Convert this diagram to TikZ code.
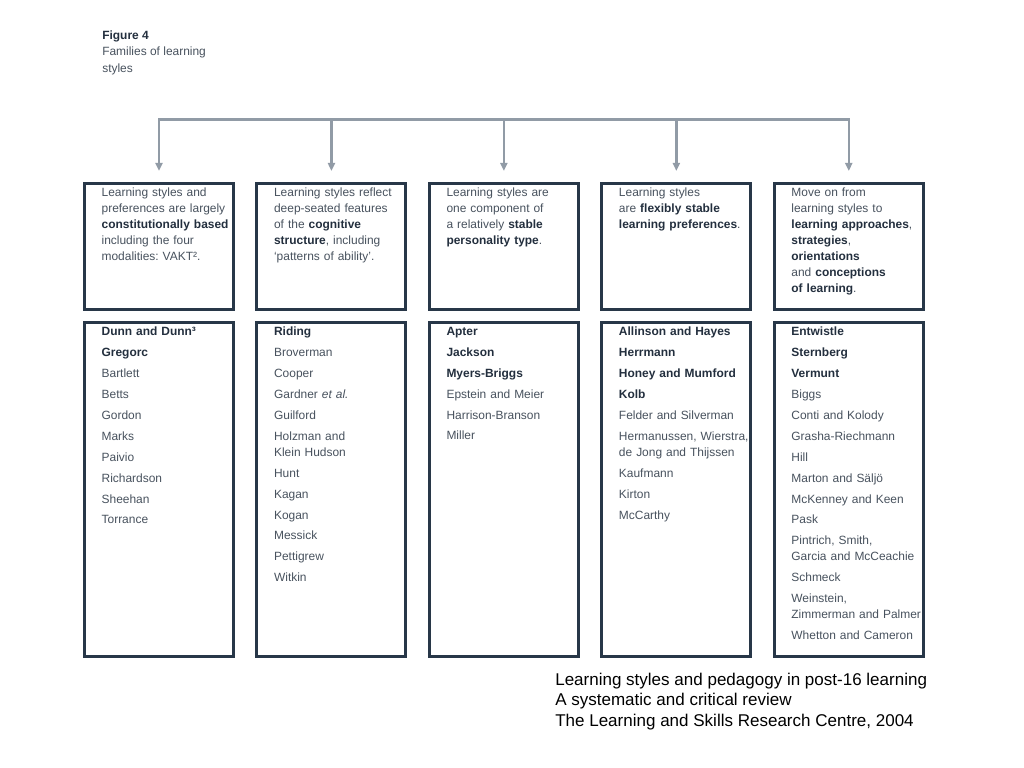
\documentclass[tikz,border=0pt]{standalone}
\usepackage{fontspec}
\setmainfont{Liberation Sans}
\usepackage{xcolor}
\usetikzlibrary{arrows.meta,positioning}
\definecolor{famnavy}{RGB}{40,55,72}
\definecolor{famgrey}{RGB}{145,155,166}
\definecolor{famtext}{RGB}{72,82,94}
\definecolor{fambold}{RGB}{35,47,62}
\frenchspacing
\newcommand{\famb}[1]{\textbf{\color{fambold}#1}}
\newcommand{\famparas}{\setlength{\parindent}{0pt}\setlength{\parskip}{3.45pt}}
\tikzset{
  topbox/.style={
    rectangle,
    draw=famnavy,
    line width=2.1pt,
    outer sep=0pt,
    minimum width=3.725cm,
    minimum height=3.15cm
  },
  listbox/.style={
    topbox,
    minimum height=8.35cm
  },
  titletext/.style={
    anchor=north west,
    inner sep=0pt,
    align=left,
    text=famtext,
    font=\fontsize{8.5pt}{11.4pt}\selectfont
  },
  boxtext/.style={
    titletext,
    text width=3.4cm,
    execute at begin node=\famparas,
    xshift=12pt,
    yshift=-3.2pt
  },
  notetext/.style={
    anchor=north west,
    inner sep=0pt,
    align=left,
    text=black,
    font=\fontsize{12.1pt}{14.7pt}\selectfont
  },
  busline/.style={
    draw=famgrey,
    line width=1.8pt,
    line cap=rect
  },
  famarrow/.style={
    -{Triangle[length=5.7pt,width=5pt]},
    draw=famgrey,
    line width=1.8pt,
    shorten >=8.7pt
  }
}

\begin{document}
\begin{tikzpicture}[x=0.025cm, y=-0.025cm, node distance=0.3325cm and 0.585cm]
\fill[white] (0,0) rectangle (1024,768);
\useasboundingbox (0,0) rectangle (1024,768);

% title
\node[titletext] (title) at (102,31) {\famb{Figure 4}\\Families of learning\\styles};

% the five families
\node[topbox] (t1) at (159,246.2) {};
\node[topbox, right=of t1] (t2) {};
\node[topbox, right=of t2] (t3) {};
\node[topbox, right=of t3] (t4) {};
\node[topbox, right=of t4] (t5) {};

\node[listbox, below=of t1] (l1) {};
\node[listbox, below=of t2] (l2) {};
\node[listbox, below=of t3] (l3) {};
\node[listbox, below=of t4] (l4) {};
\node[listbox, below=of t5] (l5) {};

% family descriptions
\node[boxtext] (d1) at (t1.north west) {Learning styles and\\preferences are largely\\\famb{constitutionally based}\\including the four\\modalities: VAKT².};
\node[boxtext] (d2) at (t2.north west) {Learning styles reflect\\deep-seated features\\of the \famb{cognitive}\\\famb{structure}, including\\`patterns of ability'.};
\node[boxtext] (d3) at (t3.north west) {Learning styles are\\one component of\\a relatively \famb{stable}\\\famb{personality type}.};
\node[boxtext] (d4) at (t4.north west) {Learning styles\\are \famb{flexibly stable}\\\famb{learning preferences}.};
\node[boxtext] (d5) at (t5.north west) {Move on from\\learning styles to\\\famb{learning approaches},\\\famb{strategies},\\\famb{orientations}\\and \famb{conceptions}\\\famb{of learning}.};

% theorists, one paragraph each
\node[boxtext] (n1) at (l1.north west) {\famb{Dunn and Dunn³}\par\famb{Gregorc}\par Bartlett\par Betts\par Gordon\par Marks\par Paivio\par Richardson\par Sheehan\par Torrance};
\node[boxtext] (n2) at (l2.north west) {\famb{Riding}\par Broverman\par Cooper\par Gardner \textit{et al.}\par Guilford\par Holzman and\\Klein Hudson\par Hunt\par Kagan\par Kogan\par Messick\par Pettigrew\par Witkin};
\node[boxtext] (n3) at (l3.north west) {\famb{Apter}\par\famb{Jackson}\par\famb{Myers-Briggs}\par Epstein and Meier\par Harrison-Branson\par Miller};
\node[boxtext] (n4) at (l4.north west) {\famb{Allinson and Hayes}\par\famb{Herrmann}\par\famb{Honey and Mumford}\par\famb{Kolb}\par Felder and Silverman\par Hermanussen, Wierstra,\\de Jong and Thijssen\par Kaufmann\par Kirton\par McCarthy};
\node[boxtext] (n5) at (l5.north west) {\famb{Entwistle}\par\famb{Sternberg}\par\famb{Vermunt}\par Biggs\par Conti and Kolody\par Grasha-Riechmann\par Hill\par Marton and Säljö\par McKenney and Keen\par Pask\par Pintrich, Smith,\\Garcia and McCeachie\par Schmeck\par Weinstein,\\Zimmerman and Palmer\par Whetton and Cameron};

% bus and arrows
\coordinate (bus) at (0,119.3);
\coordinate (b1) at (t1.north |- bus);
\coordinate (b2) at (t2.north |- bus);
\coordinate (b3) at (t3.north |- bus);
\coordinate (b4) at (t4.north |- bus);
\coordinate (b5) at (t5.north |- bus);
\draw[busline] (b1) -- (b5);
\draw[famarrow] (b1) -- (t1);
\draw[famarrow] (b2) -- (t2);
\draw[famarrow] (b3) -- (t3);
\draw[famarrow] (b4) -- (t4);
\draw[famarrow] (b5) -- (t5);

% source
\node[notetext] (source) at (555,672.6) {Learning styles and pedagogy in post-16 learning\\A systematic and critical review\\The Learning and Skills Research Centre, 2004};
\end{tikzpicture}
\end{document}
